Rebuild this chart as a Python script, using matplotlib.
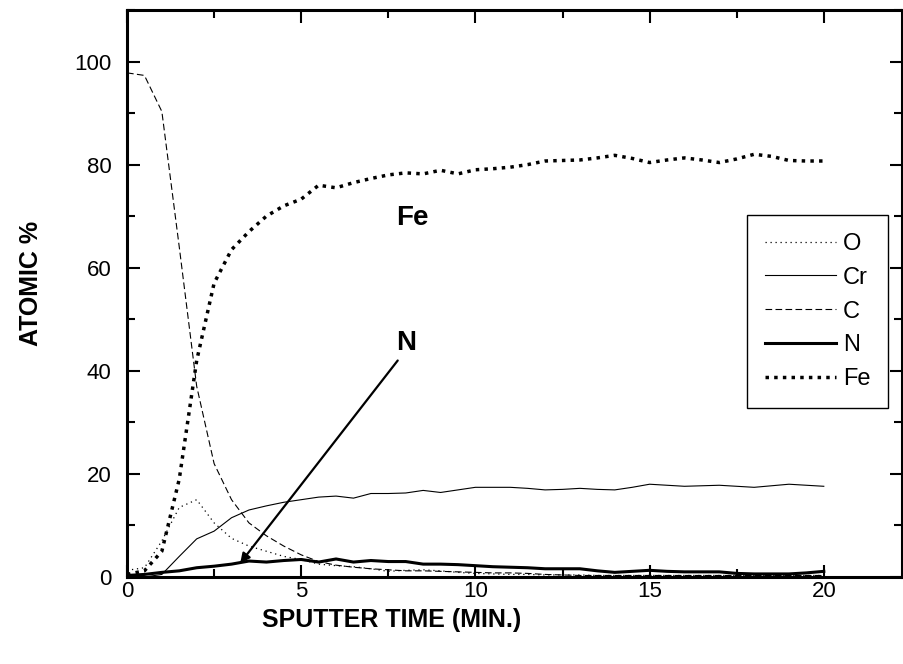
import numpy as np
import matplotlib.pyplot as plt
from matplotlib.ticker import MultipleLocator

plt.rcParams['font.family'] = ['Liberation Sans', 'DejaVu Sans']

# sputter time (min), sampled every 0.5 min
t = np.arange(0, 20.5, 0.5)

o_pct = [1.3, 1.8, 7.0, 13.5, 15.0, 10.5, 7.5, 6.0, 5.0, 4.0, 3.4, 2.5, 2.2, 2.0, 1.6,
         1.1, 1.3, 1.4, 1.2, 0.9, 0.7, 0.6, 0.5, 0.5, 0.4, 0.4, 0.4, 0.3, 0.3, 0.3, 0.3,
         0.3, 0.3, 0.3, 0.3, 0.3, 0.3, 0.3, 0.3, 0.3, 0.3]
cr_pct = [0.0, 0.0, 0.5, 4.0, 7.4, 8.9, 11.5, 13.0, 13.8, 14.5, 15.0, 15.5, 15.7, 15.3, 16.2,
          16.2, 16.3, 16.8, 16.4, 16.9, 17.4, 17.4, 17.4, 17.2, 16.9, 17.0, 17.2, 17.0, 16.9, 17.4, 18.0,
          17.8, 17.6, 17.7, 17.8, 17.6, 17.4, 17.7, 18.0, 17.8, 17.6]
c_pct = [97.8, 97.3, 90.3, 64.0, 37.0, 22.0, 15.0, 10.5, 8.0, 6.0, 4.3, 3.0, 2.3, 1.9, 1.6,
         1.4, 1.2, 1.2, 1.1, 1.0, 0.9, 0.8, 0.8, 0.7, 0.5, 0.4, 0.3, 0.3, 0.3, 0.3, 0.3,
         0.3, 0.3, 0.3, 0.3, 0.3, 0.3, 0.3, 0.3, 0.3, 0.3]
n_pct = [0.3, 0.5, 0.9, 1.2, 1.8, 2.1, 2.5, 3.1, 2.9, 3.2, 3.4, 2.9, 3.5, 2.9, 3.2,
         3.0, 3.0, 2.5, 2.5, 2.4, 2.2, 2.0, 1.9, 1.8, 1.6, 1.6, 1.6, 1.2, 0.9, 1.1, 1.3,
         1.1, 1.0, 1.0, 1.0, 0.7, 0.6, 0.6, 0.6, 0.8, 1.1]
fe_pct = [0.5, 1.2, 5.0, 19.0, 42.0, 57.0, 63.5, 67.0, 70.0, 72.0, 73.3, 76.0, 75.5, 76.5, 77.3,
          78.0, 78.4, 78.2, 78.9, 78.2, 79.0, 79.2, 79.5, 80.0, 80.7, 80.8, 80.9, 81.3, 81.8, 81.2, 80.4,
          80.9, 81.3, 80.9, 80.4, 81.1, 82.0, 81.6, 80.8, 80.7, 80.7]

fig = plt.figure(figsize=(9.04, 6.64), dpi=100)
ax = fig.add_axes([0.1405, 0.131, 0.8575, 0.854])

ax.plot(t, o_pct, color='black', lw=0.9, linestyle=(0, (1, 3)), label='O')
ax.plot(t, cr_pct, color='black', lw=0.8, label='Cr')
ax.plot(t, c_pct, color='black', lw=0.8, linestyle=(0, (6, 3)), label='C')
ax.plot(t, n_pct, color='black', lw=2.2, label='N')
ax.plot(t, fe_pct, color='black', lw=2.5, linestyle=(0, (1, 1.5)), label='Fe')

ax.set_xlim(0, 22.25)
ax.set_ylim(0, 110)
ax.xaxis.set_major_locator(MultipleLocator(5))
ax.xaxis.set_minor_locator(MultipleLocator(2.5))
ax.yaxis.set_major_locator(MultipleLocator(20))
ax.yaxis.set_minor_locator(MultipleLocator(10))
ax.tick_params(which='both', direction='in', top=True, right=True, width=1.5,
               labelsize=16, pad=11)
ax.tick_params(which='major', length=9)
ax.tick_params(which='minor', length=6)
ax.tick_params(axis='x', pad=3)
for sp in ax.spines.values():
    sp.set_linewidth(2.2)

ax.set_xlabel('SPUTTER TIME (MIN.)', fontsize=18, fontweight='bold')
ax.set_ylabel('ATOMIC %', fontsize=18, fontweight='bold')
ax.xaxis.set_label_coords(0.342, -0.055)
ax.yaxis.set_label_coords(-0.108, 0.518)

ax.text(8.2, 69.6, 'Fe', fontsize=20, fontweight='bold', ha='center', va='center')
ax.text(8.0, 45.3, 'N', fontsize=20, fontweight='bold', ha='center', va='center')
ax.annotate('', xy=(3.25, 2.7), xytext=(7.77, 42.0),
            arrowprops=dict(arrowstyle='-|>', color='black', lw=1.6,
                            mutation_scale=14, shrinkA=0, shrinkB=0))

leg = ax.legend(loc='upper right', bbox_to_anchor=(0.982, 0.638), fontsize=17,
                frameon=True, fancybox=False, edgecolor='black', handlelength=3.0,
                handletextpad=0.3, labelspacing=0.5, borderpad=0.75, borderaxespad=0)
leg.get_frame().set_linewidth(1.0)
leg.get_frame().set_alpha(1)

fig.savefig('out.png', dpi=100)
